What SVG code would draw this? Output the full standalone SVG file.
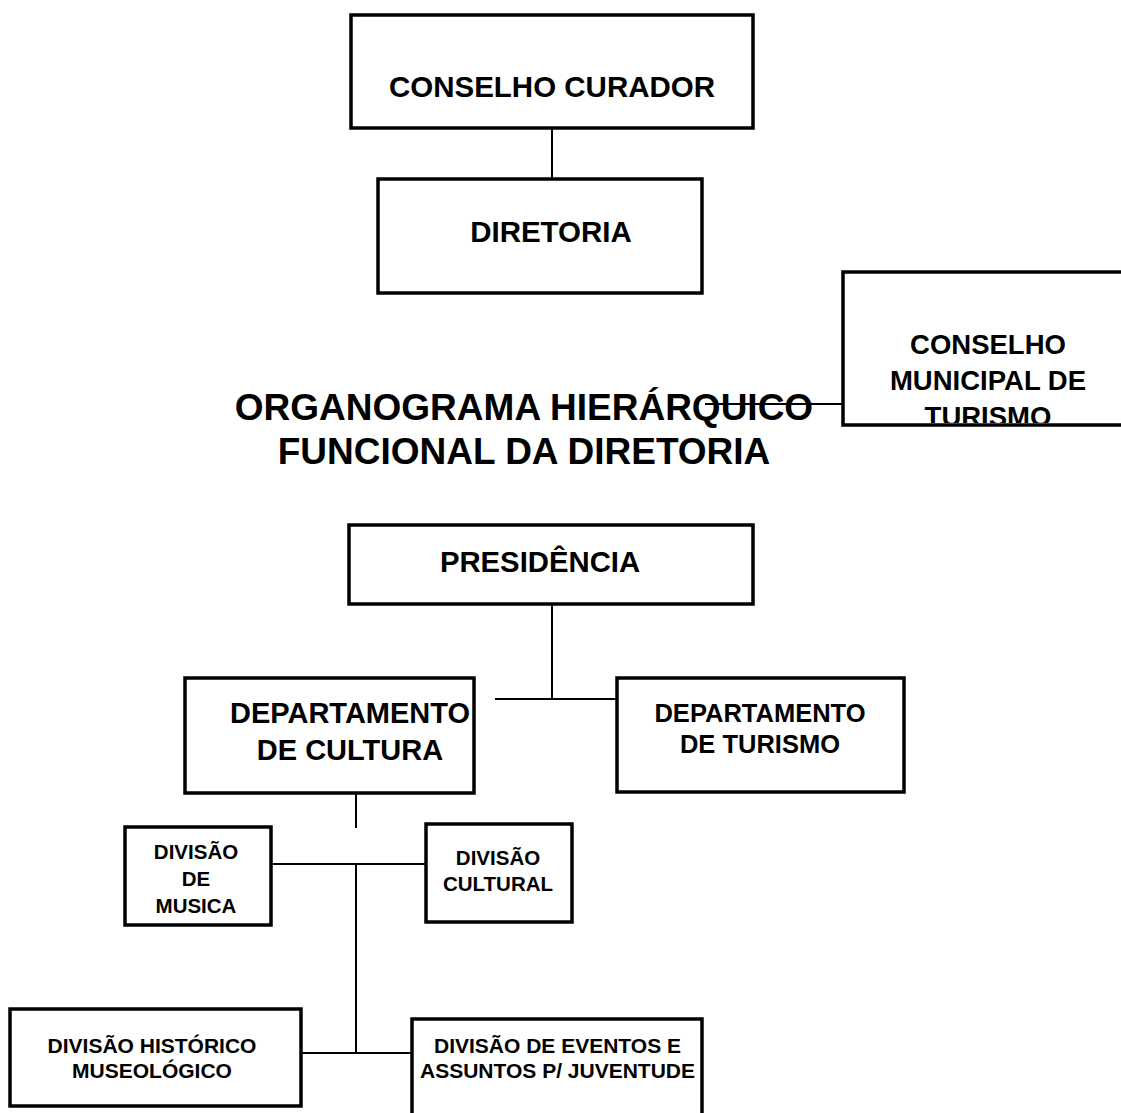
<svg xmlns="http://www.w3.org/2000/svg" width="1121" height="1113" viewBox="0 0 1121 1113">
<style>
.box{fill:#fff;stroke:#000;stroke-width:3.5}
.t{font-family:"Liberation Sans",Arial,sans-serif;font-weight:bold;fill:#000;text-anchor:middle}
.c{stroke:#000;stroke-width:2;fill:none}
</style>
<defs>
<clipPath id="cmClip"><rect x="845" y="274" width="280" height="149"/></clipPath>
</defs>
<rect width="1121" height="1113" fill="#fff"/>
<g id="connectors">
<line class="c" x1="552" y1="128" x2="552" y2="179"/>
<line class="c" x1="705" y1="404" x2="843" y2="404"/>
<line class="c" x1="552" y1="604" x2="552" y2="699"/>
<line class="c" x1="495" y1="699" x2="617" y2="699"/>
<line class="c" x1="356" y1="793" x2="356" y2="828"/>
<line class="c" x1="271" y1="864" x2="426" y2="864"/>
<line class="c" x1="356" y1="864" x2="356" y2="1053"/>
<line class="c" x1="301" y1="1053" x2="412" y2="1053"/>
</g>
<g id="conselho-curador">
<rect class="box" x="351" y="15" width="402" height="113"/>
<text class="t" x="552" y="97" font-size="29.5">CONSELHO CURADOR</text>
</g>
<g id="diretoria">
<rect class="box" x="378" y="179" width="324" height="114"/>
<text class="t" x="551" y="242" font-size="29.5">DIRETORIA</text>
</g>
<g id="conselho-municipal">
<rect class="box" x="843" y="272" width="290" height="153"/>
<g clip-path="url(#cmClip)">
<text class="t" x="988" y="354" font-size="27.5">CONSELHO</text>
<text class="t" x="988" y="390" font-size="27.5">MUNICIPAL DE</text>
<text class="t" x="988" y="426" font-size="27.5">TURISMO</text>
</g>
</g>
<g id="titulo">
<text class="t" x="524" y="420" font-size="37">ORGANOGRAMA HIERÁRQUICO</text>
<text class="t" x="524" y="464" font-size="37">FUNCIONAL DA DIRETORIA</text>
</g>
<g id="presidencia">
<rect class="box" x="349" y="525" width="404" height="79"/>
<text class="t" x="540" y="572" font-size="29.3">PRESIDÊNCIA</text>
</g>
<g id="dep-cultura">
<rect class="box" x="185" y="678" width="289" height="115"/>
<text class="t" x="350" y="723" font-size="29">DEPARTAMENTO</text>
<text class="t" x="350" y="760" font-size="29">DE CULTURA</text>
</g>
<g id="dep-turismo">
<rect class="box" x="617" y="678" width="287" height="114"/>
<text class="t" x="760" y="722" font-size="25.5">DEPARTAMENTO</text>
<text class="t" x="760" y="753" font-size="25.5">DE TURISMO</text>
</g>
<g id="div-musica">
<rect class="box" x="125" y="827" width="146" height="98"/>
<text class="t" x="196" y="859" font-size="20.5">DIVISÃO</text>
<text class="t" x="196" y="886" font-size="20.5">DE</text>
<text class="t" x="196" y="913" font-size="20.5">MUSICA</text>
</g>
<g id="div-cultural">
<rect class="box" x="426" y="824" width="146" height="98"/>
<text class="t" x="498" y="865" font-size="20.5">DIVISÃO</text>
<text class="t" x="498" y="891" font-size="20.5">CULTURAL</text>
</g>
<g id="div-historico">
<rect class="box" x="10" y="1009" width="291" height="97"/>
<text class="t" x="152" y="1053" font-size="21">DIVISÃO HISTÓRICO</text>
<text class="t" x="152" y="1078" font-size="21">MUSEOLÓGICO</text>
</g>
<g id="div-eventos">
<rect class="box" x="412" y="1019" width="290" height="110"/>
<text class="t" x="557.5" y="1053" font-size="21">DIVISÃO DE EVENTOS E</text>
<text class="t" x="557.5" y="1078" font-size="21">ASSUNTOS P/ JUVENTUDE</text>
</g>
</svg>
